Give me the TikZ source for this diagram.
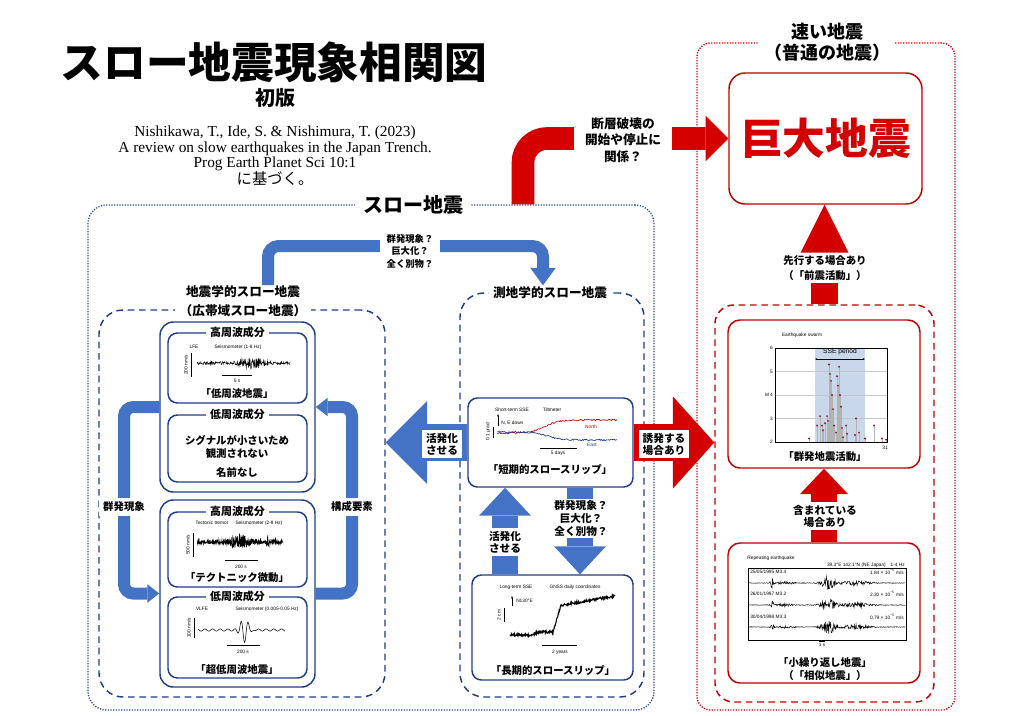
\documentclass[tikz,border=0pt]{standalone}
\usepackage{fontspec}
\setmainfont{Liberation Serif}
\newfontfamily\jp{Noto Sans CJK JP}
\newfontfamily\chartfont{Liberation Sans}
\usetikzlibrary{arrows.meta,fit}

\definecolor{arrowblue}{HTML}{4472C4}
\definecolor{navy}{HTML}{1F3C88}
\definecolor{dotblue}{HTML}{2B4A96}
\definecolor{eqred}{HTML}{D40000}
\definecolor{boxred}{HTML}{C00000}
\definecolor{ssebg}{HTML}{C8D7EA}
\definecolor{dotred}{HTML}{8E1B2E}

\tikzset{
  jptext/.style={font=\jp\bfseries\fontsize{7.8}{9.2}\selectfont, align=center, inner sep=1pt},
  subtitle/.style={font=\jp\bfseries\fontsize{8.2}{10}\selectfont, fill=white, inner xsep=3pt, inner ysep=0.5pt},
  arrowlbl/.style={jptext, fill=white, inner xsep=3pt, inner ysep=2pt},
  chartlbl/.style={font=\chartfont\fontsize{3.6}{4}\selectfont, inner sep=0pt},
  bluebox/.style={draw=navy, line width=1.1pt, fill=white, rounded corners=7pt, inner sep=0pt},
  redbox/.style={draw=boxred, line width=1.1pt, fill=white, rounded corners=9pt, inner sep=0pt},
  bluedots/.style={draw=dotblue, line width=1pt, dash pattern=on 0.9pt off 1.1pt, rounded corners=14pt, inner sep=0pt},
  reddots/.style={draw=eqred, line width=1pt, dash pattern=on 0.9pt off 1.1pt, rounded corners=10pt, inner sep=0pt},
  bluedash/.style={draw=navy, line width=1.1pt, dash pattern=on 5pt off 3.5pt, rounded corners=18pt, inner sep=0pt},
  redbroken/.style={draw=boxred, line width=1.1pt, dash pattern=on 5pt off 3.5pt, rounded corners=14pt, inner sep=0pt},
  % block arrows
  topblue/.style={draw=arrowblue, line width=9pt, rounded corners=8pt, -{Triangle[length=13pt, width=19pt, line width=0pt]}},
  loopblue/.style={draw=arrowblue, line width=9pt, rounded corners=7pt, -{Triangle[length=9pt, width=14pt, line width=0pt]}},
  bigblue/.style={draw=arrowblue, line width=28pt, -{Triangle[length=31pt, width=62pt, line width=0pt]}},
  bigred/.style={draw=eqred, line width=28pt, -{Triangle[length=31pt, width=69pt, line width=0pt]}},
  midblue/.style={draw=arrowblue, line width=19pt, -{Triangle[length=21pt, width=39pt, line width=0pt]}},
  redelbow/.style={draw=eqred, line width=17pt, rounded corners=18pt, -{Triangle[length=17pt, width=34pt, line width=0pt]}},
  redup/.style={draw=eqred, line width=20pt, -{Triangle[length=#1, width=36pt, line width=0pt]}},
}

\begin{document}
\begin{tikzpicture}[x=0.75pt, y=-0.75pt,
  declare function={bump(\t,\c,\w)=exp(-((\t-\c)/\w)*((\t-\c)/\w));}]
\pgfmathsetseed{7}
\useasboundingbox (0,0) rectangle (1024,715);

% Heading
\node[font=\jp\bfseries\fontsize{32}{36}\selectfont] (title) at (274,62) {スロー地震現象相関図};
\node[font=\jp\bfseries\fontsize{15}{18}\selectfont] (edition) at (275,98) {初版};
\node[font=\fontsize{11.5}{11.4}\selectfont, align=center] (cite) at (275,156)
  {Nishikawa, T., Ide, S. \& Nishimura, T. (2023)\\A review on slow earthquakes in the Japan Trench.\\Prog Earth Planet Sci 10:1\\{\jp に基づく。}};

% Outer frames
\node[bluedots, fit={(88,205) (654,710)}] (slowbox) {};
\node[reddots, fit={(697,43) (955,710)}] (fastbox) {};
\node[bluedash, fit={(99,310) (385,697)}] (seisbox) {};
\node[bluedash, fit={(460,293) (644,697)}] (geodbox) {};
\node[redbroken, fit={(715,305) (934,702)}] (regular) {};

% Boxes
\node[bluebox, rounded corners=10pt, fit={(160,322) (315,492)}] (lfebox) {};
\node[bluebox, fit={(168,333) (307,403)}] (hf1) {};
\node[bluebox, fit={(168,415) (307,482)}] (lf1) {};
\node[bluebox, rounded corners=10pt, fit={(160,500) (315,687)}] (trembox) {};
\node[bluebox, fit={(168,512) (307,587)}] (hf2) {};
\node[bluebox, fit={(168,597) (307,678)}] (lf2) {};
\node[bluebox, fit={(468,398) (633,487)}] (sse) {};
\node[bluebox, fit={(472,575) (633,680)}] (lsse) {};
\node[redbox, rounded corners=12pt, fit={(729,73) (922,204)}] (giant) {};
\node[redbox, fit={(728,320) (920,468)}] (swarm) {};
\node[redbox, fit={(728,543) (920,683)}] (repeat) {};

% Frame titles
\node[font=\jp\bfseries\fontsize{15}{18}\selectfont, fill=white, inner xsep=6pt] (slowlbl) at (413,205) {スロー地震};
\node[font=\jp\bfseries\fontsize{13.5}{16}\selectfont, fill=white, align=center, inner xsep=4pt, inner ysep=0pt] (fastlbl) at (827,42) {速い地震\\（普通の地震）};
\node[font=\jp\bfseries\fontsize{9.5}{14.3}\selectfont, fill=white, align=center, inner ysep=0pt] (seislbl) at (243,301) {地震学的スロー地震\\（広帯域スロー地震）};
\node[font=\jp\bfseries\fontsize{9.5}{14.3}\selectfont, fill=white, inner ysep=1pt] (geodlbl) at (550,293) {測地学的スロー地震};

% Arrows
\coordinate (topx) at (268,0);
\coordinate (topx2) at (543,0);
\coordinate (grpx) at (124,500);
\coordinate (cmpx) at (352,500);
\coordinate (upx) at (505,0);
\coordinate (dnx) at (580,0);
\coordinate (elbx) at (523,0);
\draw[topblue] (seislbl.north -| topx) |- (410,246) -| (geodlbl.north -| topx2);
\draw[loopblue] (lfebox.west) -| (grpx) |- (trembox.west);
\draw[loopblue] (trembox.east) -| (cmpx) |- (lfebox.east);
\draw[bigblue] (sse.west) -- (seisbox.east |- sse.west);
\draw[bigred] (sse.east) -- (regular.west |- sse.east);
\draw[midblue] (lsse.north -| upx) -- (sse.south -| upx);
\draw[midblue] (sse.south -| dnx) -- (lsse.north -| dnx);
\draw[redelbow] (slowbox.north -| elbx) |- (giant.west);
\draw[redup=36pt] (regular.north) -- (regular.north |- giant.south);
\draw[redup=19pt] (repeat.north) -- (swarm.south);

% Arrow labels
\node[arrowlbl, font=\jp\bfseries\fontsize{7}{9.4}\selectfont, inner xsep=5pt] (toplbl) at (410,251) {群発現象？\\巨大化？\\全く別物？};
\node[arrowlbl, inner ysep=3pt] (grplbl) at (124,507) {群発現象};
\node[arrowlbl, inner ysep=3pt] (cmplbl) at (352,507) {構成要素};
\node[arrowlbl, font=\jp\bfseries\fontsize{8}{9}\selectfont] (actlbl) at (442,444) {活発化\\させる};
\node[arrowlbl, font=\jp\bfseries\fontsize{8}{9}\selectfont] (trglbl) at (664,444) {誘発する\\場合あり};
\node[arrowlbl, font=\jp\bfseries\fontsize{8}{9}\selectfont] (uplbl) at (505,542) {活発化\\させる};
\node[arrowlbl, font=\jp\bfseries\fontsize{8}{9.8}\selectfont, inner ysep=1pt] (dnlbl) at (581,518) {群発現象？\\巨大化？\\全く別物？};
\node[arrowlbl, font=\jp\bfseries\fontsize{9.5}{12.5}\selectfont, inner xsep=8pt] (elblbl) at (623,140) {断層破壊の\\開始や停止に\\関係？};
\node[arrowlbl, font=\jp\bfseries\fontsize{7.8}{11}\selectfont] (forelbl) at (825,268) {先行する場合あり\\（「前震活動」）};
\node[arrowlbl, font=\jp\bfseries\fontsize{8}{9}\selectfont] (inclbl) at (825,516) {含まれている\\場合あり};

% Giant earthquake
\node[font=\jp\bfseries\fontsize{32}{36}\selectfont, text=eqred] (giantlbl) at (giant.center) {巨大地震};

% Sub-box titles and texts
\node[subtitle] (hf1t) at (hf1.north) {高周波成分};
\node[subtitle] (lf1t) at (lf1.north) {低周波成分};
\node[subtitle] (hf2t) at (hf2.north) {高周波成分};
\node[subtitle] (lf2t) at (lf2.north) {低周波成分};
\node[jptext] (lfelbl) at (237,394) {「低周波地震」};
\node[jptext] (nosig) at (237,447) {シグナルが小さいため\\観測されない};
\node[jptext] (noname) at (237,473) {名前なし};
\node[jptext] (tremlbl) at (237,578) {「テクトニック微動」};
\node[jptext] (vlfelbl) at (237,670) {「超低周波地震」};
\node[jptext] (sselbl) at (550,470) {「短期的スロースリップ」};
\node[jptext] (lsselbl) at (553,671) {「長期的スロースリップ」};
\node[jptext] (swarmlbl) at (825,457) {「群発地震活動」};
\node[jptext] (replbl) at (825,669) {「小繰り返し地震」\\（「相似地震」）};

% LFE record
\node[chartlbl] at (194,347) {LFE};
\node[chartlbl] at (238,347) {Seismometer (1-8 Hz)};
\draw[line width=0.3pt] (191,353) -- (191,377);
\node[chartlbl, rotate=90] at (186,365) {200 nm/s};
\draw[line width=0.35pt] plot[domain=197:290, samples=220] (\x, {363 + (1.5 + 4.5*bump(\x,252,12))*rand});
\draw[line width=0.3pt] (222,375) -- (252,375);
\node[chartlbl] at (237,381) {5 s};

% Tremor record
\node[chartlbl] at (212,523) {Tectonic tremor};
\node[chartlbl] at (259,523) {Seismometer (2-8 Hz)};
\draw[line width=0.3pt] (193,533) -- (193,557);
\node[chartlbl, rotate=90] at (188,545) {500 nm/s};
\draw[line width=0.45pt] plot[domain=197:283, samples=350] (\x, {542 + (2 + 6*bump(\x,240,9) + 5*bump(\x,268,1.5))*rand});
\draw[line width=0.3pt] (225,560) -- (258,560);
\node[chartlbl] at (241,567) {200 s};

% VLFE record
\node[chartlbl] at (202,609) {VLFE};
\node[chartlbl] at (267,609) {Seismometer (0.005-0.05 Hz)};
\draw[line width=0.3pt] (194,618) -- (194,638);
\node[chartlbl, rotate=90] at (189,628) {100 nm/s};
\draw[line width=0.4pt] plot[domain=198:285, samples=160, smooth] (\x, {630 + 1.1*sin(\x*47) + 13*bump(\x,244.5,5.5)*cos((\x-244.5)*50)});
\draw[line width=0.3pt] (227,645) -- (260,645);
\node[chartlbl] at (243,652) {200 s};

% Short-term SSE record
\node[chartlbl] at (512,410) {Short-term SSE};
\node[chartlbl] at (552,410) {Tiltmeter};
\draw[line width=0.4pt, -{Stealth[length=2pt]}] (498,426) -- (498,414);
\node[chartlbl, anchor=west] at (501,423) {N, E down};
\draw[line width=0.3pt] (493,427) -- (493,438);
\node[chartlbl, rotate=90] at (488,432) {0.1 μrad};
\draw[eqred, line width=0.5pt] plot[domain=497:617, samples=130] (\x, {433 - 13/(1+exp(-(\x-545)/7)) + 0.8*rand});
\draw[navy, line width=0.5pt] plot[domain=497:617, samples=130] (\x, {432 + 8/(1+exp(-(\x-548)/7)) + 0.8*rand});
\node[chartlbl, text=eqred] at (591,427) {North};
\node[chartlbl, text=navy] at (592,445) {East};
\draw[line width=0.3pt] (540,448) -- (577,448);
\node[chartlbl] at (558,453) {5 days};

% Long-term SSE record
\node[chartlbl] at (516,587) {Long-term SSE};
\node[chartlbl] at (575,587) {GNSS daily coordinates};
\draw[line width=0.4pt, -{Stealth[length=2pt]}] (512,606) -- (512,596);
\node[chartlbl, anchor=west] at (516,601) {N130°E};
\draw[line width=0.3pt] (504,608) -- (504,622);
\node[chartlbl, rotate=90] at (499,615) {2 cm};
\draw[line width=0.8pt] plot[domain=510:615, samples=260] (\x, {635 - 3*min(max((\x-530)/10,0),1) - 27*min(max((\x-553)/8,0),1) - 9*max(\x-562,0)/53 + 1.2*rand});
\draw[line width=0.3pt] (542,645) -- (577,645);
\node[chartlbl] at (560,652) {2 years};

% Swarm record
\node[chartlbl] at (802,335) {Earthquake swarm};
\fill[ssebg] (815,348) rectangle (865,442);
\foreach \gm in {3,4,5}
  \draw[gray!45, line width=0.3pt] (775,{442-(\gm-2)*23.5}) -- (887,{442-(\gm-2)*23.5});
\draw[line width=0.3pt] (775,348) rectangle (887,442);
\foreach \gm in {2,...,6}
  \node[chartlbl, anchor=east] at (773,{442-(\gm-2)*23.5}) {\gm};
\node[chartlbl] at (767,395) {M};
\node[chartlbl] at (885,448) {31};
\draw[line width=0.3pt, {Stealth[length=1.5pt]}-{Stealth[length=1.5pt]}] (815,359) -- (865,359);
\node[chartlbl, font=\chartfont\fontsize{5}{6}\selectfont] at (840,352) {SSE period};
\foreach \bx/\bm in {809/2.15, 817/2.7, 820/3.1, 822/2.7, 823/2.5, 825/2.8, 827/3.1, 828/2.9, 829/5.3, 830/4.9, 831/4.6, 832/4.0, 833/3.4, 834/2.7, 836/2.4, 837/4.8, 838/4.4, 839/5.2, 840/4.0, 841/3.5, 842/2.6, 843/2.2, 846/2.7, 847/2.35, 855/2.3, 856/3.0, 859/2.4, 865/2.15, 874/2.7, 882/2.15, 886/2.1} {
  \draw[gray!60, line width=0.6pt] (\bx,442) -- (\bx,{442-(\bm-2)*23.5});
  \fill[dotred] (\bx,{442-(\bm-2)*23.5}) circle[radius=0.8pt];
}

% Repeating earthquake record
\node[chartlbl] at (771,558) {Repeating earthquake};
\node[chartlbl, anchor=east] at (905,565) {39.3°E 142.1°N (NE Japan)\quad 1-4 Hz};
\draw[line width=0.3pt] (748,568) rectangle (906,640);
\foreach \ry in {583,605,627}
  \draw[line width=0.35pt] plot[domain=749:905, samples=320] (\x, {\ry + (0.3 + 5*bump(\x,772,1.5) + 1.2*bump(\x,785,10) + 7*bump(\x,828,7) + 2.5*bump(\x,855,14))*rand});
\node[chartlbl, anchor=west] at (750,572) {25/05/1995 M3.4};
\node[chartlbl, anchor=west] at (750,594) {26/01/1997 M3.2};
\node[chartlbl, anchor=west] at (750,617) {30/04/1998 M3.3};
\node[chartlbl, anchor=east] at (904,572) {1.84 × 10\textsuperscript{−5} m/s};
\node[chartlbl, anchor=east] at (904,594) {2.30 × 10\textsuperscript{−5} m/s};
\node[chartlbl, anchor=east] at (904,617) {0.79 × 10\textsuperscript{−5} m/s};
\draw[line width=0.3pt] (819,641) -- (825,641);
\node[chartlbl] at (822,645) {1 s};
\end{tikzpicture}
\end{document}
